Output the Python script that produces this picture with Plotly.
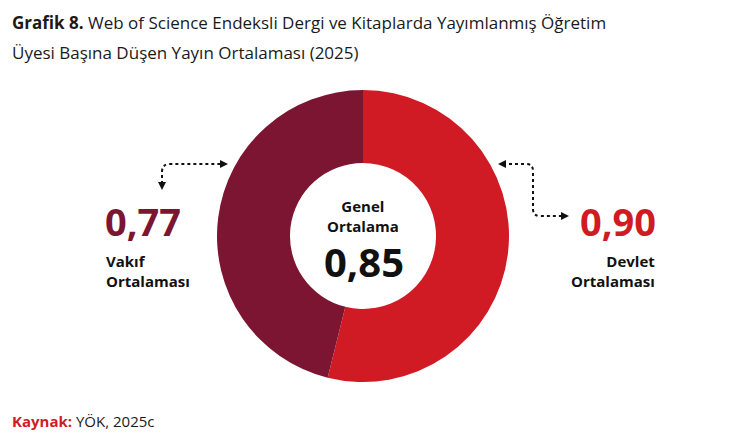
""" Grafik 8: WoS endeksli yayın ortalaması (Devlet / Vakıf) """
import plotly.graph_objects as go

# %%
# Data
groups = ["Devlet", "Vakıf"]
averages = [0.90, 0.77]
overall_average = 0.85
colors = ["#D01B25", "#7B1531"]

# page body has an 8px margin, so the figure is drawn from (8, 8)
OFF = 8
W, H = 744 - OFF, 441 - OFF
FONT = "Open Sans"


def px(x):
    return (x - OFF) / W


def py(y):
    return 1 - (y - OFF) / H


def fmt(v):
    return f"{v:.2f}".replace(".", ",")


# %%
# Donut
fig = go.Figure()
fig.add_trace(go.Pie(
    labels=groups,
    values=averages,
    hole=0.5,
    sort=False,
    direction="clockwise",
    rotation=0,
    marker=dict(colors=colors, line=dict(width=0)),
    textinfo="none",
    hoverinfo="label+value",
    showlegend=False,
    domain=dict(x=[px(217), px(509)], y=[py(382), py(90)]),
))

# %%
# Texts
annotations = [
    dict(x=px(11), y=py(23), xanchor="left", yanchor="middle",
         text="<b>Grafik 8.</b> Web of Science Endeksli Dergi ve Kitaplarda Yayımlanmış Öğretim",
         font=dict(size=17, color="#1a1a1a")),
    dict(x=px(11), y=py(53), xanchor="left", yanchor="middle",
         text="Üyesi Başına Düşen Yayın Ortalaması (2025)",
         font=dict(size=17, color="#1a1a1a")),
    dict(x=px(11), y=py(421), xanchor="left", yanchor="middle",
         text=f"<b><span style='color:{colors[0]}'>Kaynak:</span></b> YÖK, 2025c",
         font=dict(size=15, color="#1a1a1a")),
    # center
    dict(x=px(363), y=py(216), xanchor="center", yanchor="middle",
         text="<b>Genel<br>Ortalama</b>", font=dict(size=15, color="#111")),
    dict(x=px(364), y=py(262), xanchor="center", yanchor="middle",
         text=f"<b>{fmt(overall_average)}</b>", font=dict(size=40, color="#111")),
    # Vakif
    dict(x=px(104), y=py(221), xanchor="left", yanchor="middle",
         text=f"<b>{fmt(averages[1])}</b>", font=dict(size=38, color=colors[1])),
    dict(x=px(105), y=py(271), xanchor="left", yanchor="middle", align="left",
         text=f"<b>{groups[1]}<br>Ortalaması</b>", font=dict(size=15, color="#111")),
    # Devlet
    dict(x=px(657), y=py(221), xanchor="right", yanchor="middle",
         text=f"<b>{fmt(averages[0])}</b>", font=dict(size=38, color=colors[0])),
    dict(x=px(656), y=py(271), xanchor="right", yanchor="middle", align="right",
         text=f"<b>{groups[0]}<br>Ortalaması</b>", font=dict(size=15, color="#111")),
]
for a in annotations:
    a.update(xref="paper", yref="paper", showarrow=False, borderpad=0)


# %%
# Dotted connectors with arrow heads
def path(points):
    return " ".join(points)


dot = dict(color="#111", width=2, dash="dot")
shapes = [
    dict(type="path", line=dot,
         path=path([f"M {px(162)},{py(184)}", f"L {px(162)},{py(172)}",
                    f"Q {px(162)},{py(164)} {px(170)},{py(164)}",
                    f"L {px(222)},{py(164)}"])),
    dict(type="path", line=dot,
         path=path([f"M {px(503)},{py(164)}", f"L {px(526)},{py(164)}",
                    f"Q {px(533)},{py(164)} {px(533)},{py(171)}",
                    f"L {px(533)},{py(209)}",
                    f"Q {px(533)},{py(216)} {px(540)},{py(216)}",
                    f"L {px(563)},{py(216)}"])),
]


def head(x, y, d):
    s = 4
    if d == "down":
        pts = [(x - s, y - 2 * s), (x + s, y - 2 * s), (x, y)]
    elif d == "right":
        pts = [(x - 2 * s, y - s), (x - 2 * s, y + s), (x, y)]
    else:
        pts = [(x + 2 * s, y - s), (x + 2 * s, y + s), (x, y)]
    p = "M " + " L ".join(f"{px(a)},{py(b)}" for a, b in pts) + " Z"
    return dict(type="path", path=p, fillcolor="#111", line=dict(width=0))


shapes += [head(162, 190, "down"), head(228, 164, "right"),
           head(498, 164, "left"), head(569, 216, "right")]
for s in shapes:
    s.update(xref="paper", yref="paper")

fig.update_layout(
    width=W, height=H,
    margin=dict(l=0, r=0, t=0, b=0),
    paper_bgcolor="white", plot_bgcolor="white",
    font=dict(family=FONT),
    annotations=annotations,
    shapes=shapes,
)
fig.write_html("out.html")
